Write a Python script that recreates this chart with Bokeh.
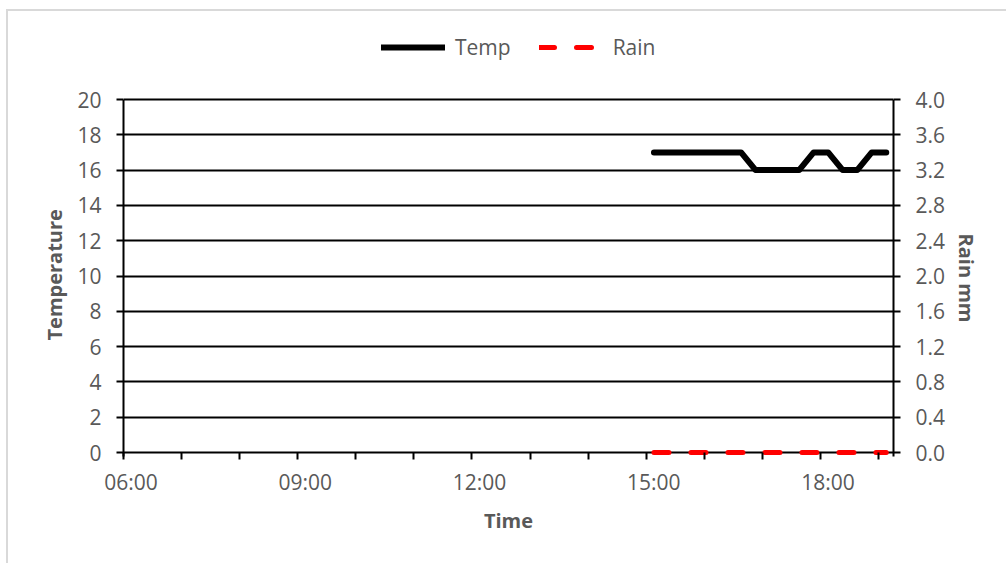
from bokeh.plotting import figure
from bokeh.models import (Range1d, LinearAxis, FixedTicker, Legend, LegendItem,
                          PrintfTickFormatter, InlineStyleSheet, Title)
from bokeh.embed import file_html
from bokeh.resources import INLINE

# ---- data ----
times = ["15:08", "15:23", "15:38", "15:53", "16:08", "16:23", "16:38", "16:53",
         "17:08", "17:23", "17:38", "17:53", "18:08", "18:23", "18:38", "18:53", "19:08"]
temp = [17, 17, 17, 17, 17, 17, 17, 16, 16, 16, 16, 17, 17, 16, 16, 17, 17]
rain = [0.0, 0.0, 0.0, 0.0, 0.0, 0.0, 0.0, 0.0, 0.0, 0.0, 0.0, 0.0, 0.0, 0.0, 0.0, 0.0, 0.0]
x_tick_labels = ["06:00", "09:00", "12:00", "15:00", "18:00"]
hour_ticks = [6, 7, 8, 9, 10, 11, 12, 13, 14, 15, 16, 17, 18, 19]
temp_ticks = [0, 2, 4, 6, 8, 10, 12, 14, 16, 18, 20]
rain_ticks = [0.0, 0.4, 0.8, 1.2, 1.6, 2.0, 2.4, 2.8, 3.2, 3.6, 4.0]


def to_hours(s):
    h, m = s.split(":")
    return int(h) + int(m) / 60.0


x = [to_hours(t) for t in times]

GREY = "#595959"
FONT = "Open Sans"

# frame spans y 15..456; value 20 sits at y=99, value 0 at y=452
FRAME_TOP, Y20, Y0, FRAME_BOTTOM = 15, 99, 452, 456
px_per_unit = (Y0 - Y20) / 20.0
pad = (FRAME_BOTTOM - Y0) / px_per_unit
top_val = 20 + (Y20 - FRAME_TOP) / px_per_unit

p = figure(width=1006, height=563, output_backend="svg", toolbar_location=None,
           x_range=Range1d(6, 19.258), y_range=Range1d(-pad, top_val),
           min_border_left=123, min_border_right=113, min_border_top=FRAME_TOP,
           min_border_bottom=563 - FRAME_BOTTOM)
p.extra_y_ranges = {"rain": Range1d(-pad / 5.0, top_val / 5.0)}
p.outline_line_color = None
p.background_fill_color = "white"
p.border_fill_color = "white"

# lines
r_temp = p.line(x, temp, line_color="black", line_width=6,
                line_join="round", line_cap="round")
r_rain = p.line(x, rain, y_range_name="rain", line_color="#ff0000", line_width=5,
                line_dash="15 22", line_cap="round")

# x axis (labels sit slightly right of the hour ticks, as in the reference)
label_off = 7.5 / 58.08
label_pos = [round(to_hours(s) + label_off, 3) for s in x_tick_labels]
xa = p.xaxis[0]
xa.ticker = FixedTicker(ticks=label_pos, minor_ticks=hour_ticks)
xa.major_label_overrides = {pos: lab for pos, lab in zip(label_pos, x_tick_labels)}
xa.major_tick_out = 0
xa.major_tick_in = 0
xa.minor_tick_in = 4
xa.minor_tick_out = 3
xa.minor_tick_line_color = "black"
xa.minor_tick_line_width = 2
xa.axis_line_color = None
xa.major_label_text_font = FONT
xa.major_label_text_font_size = "21px"
xa.major_label_text_color = GREY
xa.major_label_standoff = 8
xa.axis_label = "Time"
xa.axis_label_text_font = FONT
xa.axis_label_text_font_size = "20px"
xa.axis_label_text_font_style = "bold"
xa.axis_label_text_color = GREY
xa.axis_label_standoff = 8

# left axis
ya = p.yaxis[0]
ya.ticker = FixedTicker(ticks=temp_ticks)
ya.bounds = (-pad, 20)
ya.major_tick_out = 7
ya.major_tick_in = 0
ya.minor_tick_out = 0
ya.minor_tick_in = 0
ya.major_tick_line_width = 2
ya.axis_line_width = 2
ya.axis_line_color = "black"
ya.major_tick_line_color = "black"
ya.major_label_text_font = FONT
ya.major_label_text_font_size = "21px"
ya.major_label_text_color = GREY
ya.major_label_standoff = 15

# right axis
ra = LinearAxis(y_range_name="rain", ticker=FixedTicker(ticks=rain_ticks),
                formatter=PrintfTickFormatter(format="%.1f"))
ra.bounds = (-pad / 5.0, 4.0)
ra.major_tick_out = 7
ra.major_tick_in = 0
ra.minor_tick_out = 0
ra.minor_tick_in = 0
ra.major_tick_line_width = 2
ra.axis_line_width = 2
ra.axis_line_color = "black"
ra.major_label_text_font = FONT
ra.major_label_text_font_size = "21px"
ra.major_label_text_color = GREY
ra.major_label_standoff = 15
p.add_layout(ra, "right")

# axis titles, centred on the 0..20 span (not on the taller frame)
left_title = Title(text="Temperature", align="left", offset=116, standoff=14,
                   text_font=FONT, text_font_size="20px", text_font_style="bold",
                   text_color=GREY)
p.add_layout(left_title, "left")
right_title = Title(text="Rain mm", align="left", offset=218, standoff=8,
                    text_font=FONT, text_font_size="20px", text_font_style="bold",
                    text_color=GREY)
p.add_layout(right_title, "right")

# grid
p.xgrid.grid_line_color = None
p.ygrid.ticker = FixedTicker(ticks=temp_ticks)
p.ygrid.grid_line_color = "black"
p.ygrid.grid_line_width = 2

# legend (inside the tall frame, above the 20 line)
legend = Legend(items=[LegendItem(label="Temp", renderers=[r_temp]),
                       LegendItem(label="Rain", renderers=[r_rain])],
                orientation="horizontal", location=(258, 395),
                border_line_color=None, background_fill_alpha=0,
                padding=0, margin=0, spacing=28, glyph_width=64, glyph_height=20,
                label_standoff=10, label_text_font=FONT, label_text_font_size="21px",
                label_text_color=GREY)
p.add_layout(legend, "center")

# outer chart border (light grey frame, as in the reference)
p.stylesheets = [InlineStyleSheet(css=(
    ":host::after { content: ''; position: absolute; left: 6px; top: 9px; "
    "width: 1100px; height: 700px; border: 2px solid #d9d9d9; "
    "box-sizing: border-box; pointer-events: none; z-index: 10; }"))]

open("out.html", "w").write(file_html(p, INLINE))
